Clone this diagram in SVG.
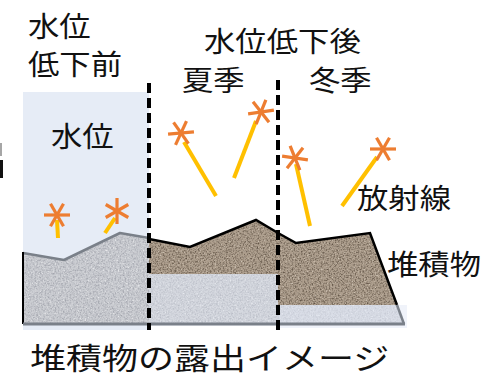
<svg xmlns="http://www.w3.org/2000/svg" xmlns:xlink="http://www.w3.org/1999/xlink" width="482" height="378" viewBox="0 0 482 378">
  <style>
    .label { font-family: "Noto Sans CJK JP", "Noto Sans", sans-serif; fill: #111; }
    .ray { stroke: #ffc000; stroke-width: 4; stroke-linecap: butt; fill: none; }
    .spark line { stroke: #ed7d31; stroke-width: 3.2; }
    .divider { stroke: #000; stroke-width: 4; stroke-dasharray: 10 5; fill: none; }
    .rim-gray { stroke: #7a8089; stroke-width: 2.5; fill: none; stroke-linejoin: round; }
    .rim-black { stroke: #000; stroke-width: 2.5; fill: none; stroke-linejoin: miter; }
  </style>
  <defs>
    <!-- mottled grain for the sediment fills -->
    <filter id="grainGray" x="0" y="0" width="100%" height="100%" color-interpolation-filters="sRGB">
      <feTurbulence type="fractalNoise" baseFrequency="0.6" numOctaves="2" seed="4" result="n"/>
      <feColorMatrix in="n" type="matrix" values="0 0 0 0 0.55  0 0 0 0 0.56  0 0 0 0 0.60  1.5 0 0 0 -0.62" result="dark"/>
      <feColorMatrix in="n" type="matrix" values="0 0 0 0 1  0 0 0 0 1  0 0 0 0 1  0 -2.0 0 0 0.85" result="light"/>
      <feComposite in="dark" in2="SourceGraphic" operator="in" result="d"/>
      <feComposite in="light" in2="SourceGraphic" operator="in" result="l"/>
      <feMerge><feMergeNode in="SourceGraphic"/><feMergeNode in="d"/><feMergeNode in="l"/></feMerge>
    </filter>
    <filter id="grainBrown" x="0" y="0" width="100%" height="100%" color-interpolation-filters="sRGB">
      <feTurbulence type="fractalNoise" baseFrequency="0.65" numOctaves="2" seed="9" result="n"/>
      <feColorMatrix in="n" type="matrix" values="0 0 0 0 0.32  0 0 0 0 0.27  0 0 0 0 0.22  2.0 0 0 0 -0.86" result="dark"/>
      <feColorMatrix in="n" type="matrix" values="0 0 0 0 0.93  0 0 0 0 0.90  0 0 0 0 0.85  0 -2.2 0 0 0.88" result="light"/>
      <feComposite in="dark" in2="SourceGraphic" operator="in" result="d"/>
      <feComposite in="light" in2="SourceGraphic" operator="in" result="l"/>
      <feMerge><feMergeNode in="SourceGraphic"/><feMergeNode in="d"/><feMergeNode in="l"/></feMerge>
    </filter>
    <clipPath id="moundClip">
      <polygon points="149,239 190,247 256,220 278,233 296,243 370,233 397,305 404,324 149,324"/>
    </clipPath>
    <g id="spark" class="spark">
      <line x1="-13" y1="0" x2="13" y2="0"/>
      <line x1="-6.5" y1="-11.3" x2="6.5" y2="11.3"/>
      <line x1="6.5" y1="-11.3" x2="-6.5" y2="11.3"/>
    </g>
  </defs>

  <rect width="482" height="378" fill="#fff"/>

  <!-- clipped mark at the left margin -->
  <rect x="0" y="143" width="2" height="13" fill="#a6a6a6"/>
  <rect x="0" y="160" width="3" height="18" fill="#111"/>

  <!-- before the water level drops -->
  <g id="before">
    <rect x="23" y="92" width="126" height="238" fill="#e6ecf6"/>
    <polygon points="23,253 64,260 120,233 149,238 149,324 23,324" fill="#cbcdd2" filter="url(#grainGray)"/>
    <polyline class="rim-gray" points="23,253 64,260 120,233 149,238"/>
    <line x1="23" y1="252" x2="23" y2="324" stroke="#000" stroke-width="2"/>
  </g>

  <!-- exposed sediment after the drop -->
  <g id="sediment">
    <polygon points="149,239 190,247 256,220 278,233 296,243 370,233 397,305 404,324 149,324" fill="#ae9f8e" filter="url(#grainBrown)"/>
    <g clip-path="url(#moundClip)">
      <rect x="149" y="274" width="129" height="52" fill="#cbcdd2" filter="url(#grainGray)"/>
      <rect x="278" y="305" width="130" height="22" fill="#cbcdd2" filter="url(#grainGray)"/>
    </g>
    <rect x="149" y="274" width="129" height="52" fill="#e6ecf6" opacity="0.35"/>
    <rect x="278" y="305" width="129" height="23" fill="#e3eaf6" opacity="0.55"/>
    <polyline class="rim-black" points="149,239 190,247 256,220 278,233 296,243 370,233 397,305"/>
    <line class="rim-gray" x1="397" y1="305" x2="404" y2="324"/>
    <line x1="23" y1="324" x2="405" y2="324" stroke="#7a8089" stroke-width="3"/>
  </g>

  <!-- radiation rays with their sources -->
  <g id="rays">
    <line class="ray" x1="57" y1="220" x2="58" y2="238"/>
    <line class="ray" x1="115" y1="218" x2="105" y2="233"/>
    <line class="ray" x1="184" y1="142" x2="216" y2="196"/>
    <line class="ray" x1="256" y1="121" x2="234" y2="178"/>
    <line class="ray" x1="296" y1="164" x2="310" y2="226"/>
    <line class="ray" x1="377" y1="157" x2="342" y2="206"/>
    <use xlink:href="#spark" transform="translate(57,215)"/>
    <use xlink:href="#spark" transform="translate(117,211) rotate(90)"/>
    <use xlink:href="#spark" transform="translate(181,133) rotate(-5)"/>
    <use xlink:href="#spark" transform="translate(261,112) rotate(-8)"/>
    <use xlink:href="#spark" transform="translate(295,158) rotate(8)"/>
    <use xlink:href="#spark" transform="translate(383,149)"/>
  </g>

  <!-- season dividers -->
  <g id="dividers">
    <line class="divider" x1="149" y1="83" x2="149" y2="330"/>
    <line class="divider" x1="278" y1="80" x2="278" y2="330"/>
  </g>

  <g id="labels">
    <text class="label" font-size="28" transform="translate(28,37) scale(1.12 1)">水位</text>
    <text class="label" font-size="28" transform="translate(28,75) scale(1.12 1)">低下前</text>
    <text class="label" font-size="28" transform="translate(204,52) scale(1.12 1)">水位低下後</text>
    <text class="label" font-size="28" transform="translate(182,91) scale(1.12 1)">夏季</text>
    <text class="label" font-size="28" transform="translate(309,91) scale(1.12 1)">冬季</text>
    <text class="label" font-size="28" transform="translate(51,147) scale(1.12 1)">水位</text>
    <text class="label" font-size="28" transform="translate(357,209) scale(1.12 1)">放射線</text>
    <text class="label" font-size="28" transform="translate(387,275) scale(1.12 1)">堆積物</text>
    <text class="label" font-size="30" transform="translate(30,369) scale(1.2 1)">堆積物の露出イメージ</text>
  </g>
</svg>
